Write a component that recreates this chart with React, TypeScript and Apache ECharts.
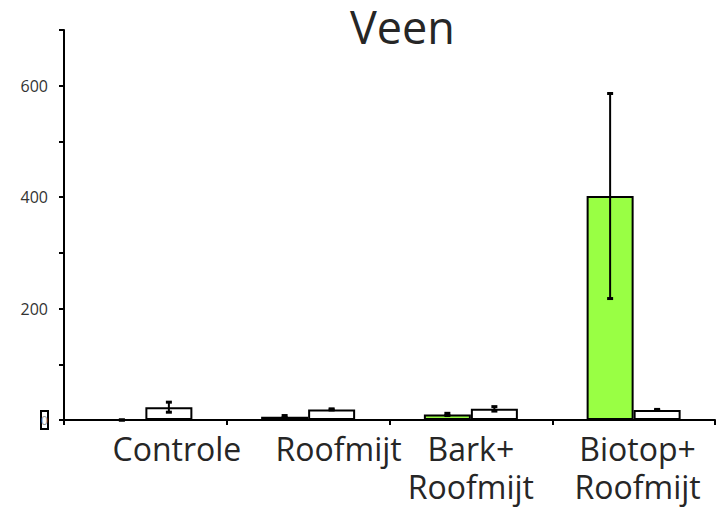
import React, { useEffect, useRef } from "react";
import * as echarts from "echarts";

const categories = ["Controle", "Roofmijt", "Bark+\nRoofmijt", "Biotop+\nRoofmijt"];
const greenValues = [0, 6, 10, 402];
const greenErrors = [0, 2, 2, 184];
const whiteValues = [23, 19, 20, 18];
const whiteErrors = [9, 1, 4, 1];
const yShownLabels = [0, 200, 400, 600];

const labelShift = [63, 61, 0, 8];
const BAR_W = 47;

export default function App() {
  const ref = useRef<HTMLDivElement>(null);
  useEffect(() => {
    if (!ref.current) return;
    const chart = echarts.init(ref.current, undefined, { renderer: "svg" });
    const errSeries = (vals: number[], errs: number[], offset: number) => ({
      type: "custom",
      z: 10,
      data: categories.map((_, i) => [i, vals[i], errs[i]]),
      renderItem: (params: any, api: any) => {
        const i = api.value(0);
        const v = api.value(1);
        const e = api.value(2);
        const hi = api.coord([i, v + e]);
        const lo = api.coord([i, v - e]);
        const cx = hi[0] + offset;
        return {
          type: "group",
          children: [
            { type: "line", shape: { x1: cx, y1: hi[1], x2: cx, y2: lo[1] }, style: { stroke: "#000", lineWidth: 2 } },
            { type: "rect", shape: { x: cx - 3, y: hi[1] - 1.5, width: 6, height: 3 }, style: { fill: "#000" } },
            { type: "rect", shape: { x: cx - 3, y: lo[1] - 1.5, width: 6, height: 3 }, style: { fill: "#000" } },
          ],
        };
      },
    });
    const rich: any = {
      box: {
        borderColor: "#000",
        borderWidth: 2,
        width: 7,
        height: 18,
        lineHeight: 18,
        align: "center",
        fontSize: 12,
        color: "#999",
        fontFamily: "Open Sans",
      },
      n: {
        fontSize: 16,
        fontFamily: "Open Sans",
        color: "#333333",
      },
    };
    const xRich: any = {};
    categories.forEach((_, i) => {
      xRich["c" + i] = {
        padding: [0, 0, 0, labelShift[i]],
        fontSize: 32,
        lineHeight: 38,
        fontFamily: "Open Sans",
        color: "#262626",
      };
    });
    chart.setOption({
      animation: false,
      title: {
        text: "Veen",
        left: 350,
        top: 4,
        padding: 0,
        textStyle: { fontSize: 45, fontWeight: "normal", fontFamily: "Open Sans", color: "#262626" },
      },
      grid: { left: 64, right: 1, top: 30, bottom: 88 },
      xAxis: {
        type: "category",
        data: categories,
        axisLine: { lineStyle: { color: "#000", width: 2 } },
        axisTick: { show: true, length: 5, lineStyle: { color: "#000", width: 2 } },
        axisLabel: {
          margin: 9,
          interval: 0,
          formatter: (value: string, idx: number) =>
            value
              .split("\n")
              .map((l) => `{c${idx}|${l}}`)
              .join("\n"),
          rich: xRich,
        },
      },
      yAxis: {
        type: "value",
        min: 0,
        max: 700,
        interval: 100,
        splitLine: { show: false },
        axisLine: { show: true, lineStyle: { color: "#000", width: 2 } },
        axisTick: { show: true, length: 5, lineStyle: { color: "#000", width: 2 } },
        axisLabel: {
          margin: 16,
          fontSize: 16,
          fontFamily: "Open Sans",
          color: "#333333",
          formatter: (v: number) =>
            v === 0 ? "{box|0}" : yShownLabels.includes(v) ? `{n|${v}}` : "",
          rich,
        },
      },
      series: [
        {
          type: "bar",
          data: greenValues,
          barWidth: BAR_W,
          barGap: "0%",
          itemStyle: { color: "#99FF44", borderColor: "#000", borderWidth: 2 },
        },
        {
          type: "bar",
          data: whiteValues,
          barWidth: BAR_W,
          barGap: "0%",
          itemStyle: { color: "#FFFFFF", borderColor: "#000", borderWidth: 2 },
        },
        errSeries(greenValues, greenErrors, -BAR_W / 2),
        errSeries(whiteValues, whiteErrors, BAR_W / 2),
      ],
    } as any);
    return () => chart.dispose();
  }, []);
  return (
    <div
      ref={ref}
      style={{ position: "fixed", left: 0, top: 0, width: 716, height: 508, background: "#fff" }}
    />
  );
}
